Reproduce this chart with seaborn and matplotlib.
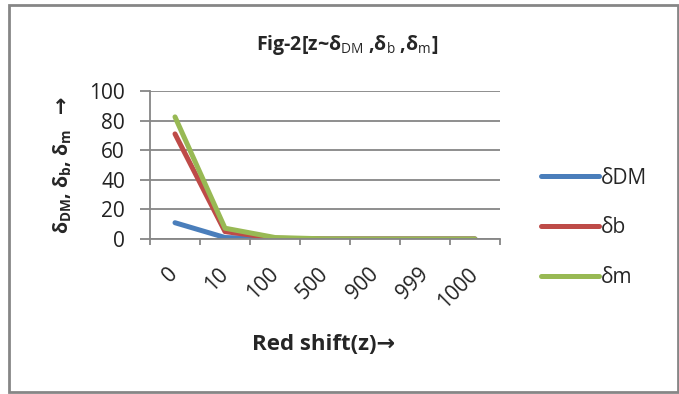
import matplotlib
matplotlib.use("Agg")
import matplotlib.pyplot as plt
import seaborn as sns
import pandas as pd
from matplotlib.patches import Rectangle
from matplotlib.ticker import FixedLocator

redshift = ["0", "10", "100", "500", "900", "999", "1000"]
delta_dm = [11.0, 1.0, 0.1, 0.0, 0.0, 0.0, 0.0]
delta_b = [71.0, 5.0, 0.5, 0.0, 0.0, 0.0, 0.0]
delta_m = [82.5, 7.3, 1.0, 0.1, 0.0, 0.0, 0.0]
series_names = ["δDM", "δb", "δm"]
colors = ["#4a7ebb", "#be4b48", "#98b954"]

df = pd.DataFrame({"z": redshift * 3,
                   "value": delta_dm + delta_b + delta_m,
                   "series": [s for s in series_names for _ in redshift]})

sns.set_style("white")
FONT = "Open Sans"
plt.rcParams["font.family"] = [FONT, "DejaVu Sans"]
plt.rcParams["mathtext.fontset"] = "custom"
plt.rcParams["mathtext.rm"] = FONT
plt.rcParams["mathtext.bf"] = FONT + ":bold"
plt.rcParams["mathtext.it"] = FONT

W, H = 679, 394
fig = plt.figure(figsize=(W / 100, H / 100), dpi=100)
ax = fig.add_axes([150 / W, (H - 239) / H, 350 / W, 148 / H])

sns.lineplot(data=df, x="z", y="value", hue="series", palette=colors,
             linewidth=3.6, ax=ax, sort=False, legend=True)
for ln in ax.lines:
    ln.set_solid_capstyle("round")

ax.set_xlim(-0.5, 6.5)
ax.set_ylim(0, 100)
ax.set_yticks([0, 20, 40, 60, 80, 100])
ax.yaxis.grid(True, color="#868686", linewidth=1.3)
ax.xaxis.grid(False)
for s in ["top", "right"]:
    ax.spines[s].set_visible(False)
for s in ["left", "bottom"]:
    ax.spines[s].set_color("#868686")
    ax.spines[s].set_linewidth(1.3)
ax.set_axisbelow(True)

ax.set_xticks(range(len(redshift)))
ax.set_xticklabels(redshift, rotation=45, ha="right", va="center",
                   rotation_mode="anchor", fontsize=15, color="#222222")
ax.tick_params(axis="x", which="major", length=0, pad=23)
ax.xaxis.set_minor_locator(FixedLocator([i - 0.5 for i in range(len(redshift) + 1)]))
ax.tick_params(axis="x", which="minor", length=4.5, width=1.3, color="#868686", bottom=True)
ax.tick_params(axis="y", length=7, width=1.3, color="#868686", left=True,
               labelsize=15, labelcolor="#222222", pad=11)
ax.set_xlabel("")
ax.set_ylabel("")

fig.text(324 / W, 1 - 345 / H, "Red shift(z)→", fontsize=16, fontweight="bold",
         ha="center", va="center")
fig.text(62 / W, 1 - 234 / H,
         r"δ$_{\mathbf{DM}}$, δ$_{\mathbf{b}}$, δ$_{\mathbf{m}}$",
         fontsize=14, fontweight="bold", rotation=90, ha="center", va="bottom")
fig.text(61 / W, 1 - 98 / H, "↑", fontsize=15, fontweight="bold",
         family=["DejaVu Sans"], ha="center", va="top")
fig.text(347 / W, 1 - 45 / H,
         r"Fig-2[z~δ$_{\mathrm{DM}}$ ,δ$_{\mathrm{b}}$ ,δ$_{\mathrm{m}}$]",
         fontsize=14, fontweight="bold", ha="center", va="center")

h, l = ax.get_legend_handles_labels()
ax.get_legend().remove()
fig.legend(h, l, loc="center left", bbox_to_anchor=(522 / W, 1 - 228 / H),
           frameon=False, fontsize=15, labelspacing=1.38, handlelength=2.8,
           handletextpad=0.1)

fig.patches.append(Rectangle((9 / W, 2 / H), 669 / W, 387 / H, transform=fig.transFigure,
                             fill=False, edgecolor="#868686", linewidth=2))

fig.savefig("out.png", dpi=100)
